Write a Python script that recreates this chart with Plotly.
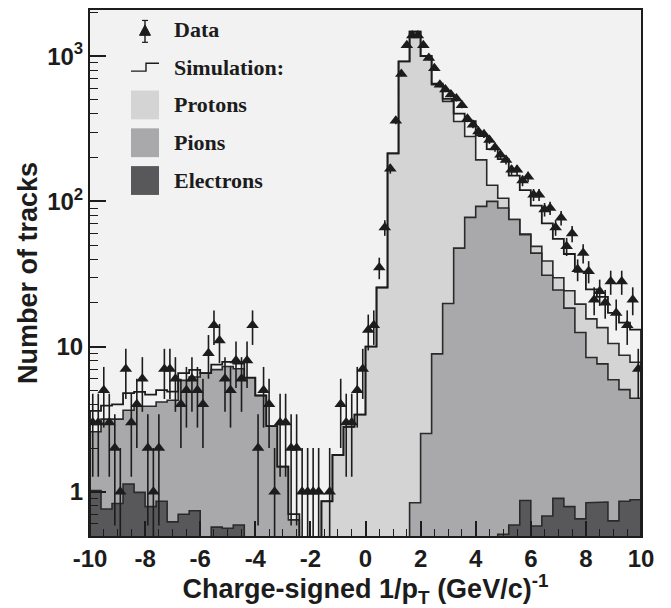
import numpy as np
import plotly.graph_objects as go

# ---- simulation: 50 bins of width 0.4 over charge-signed 1/pT ----
sim_edges = np.linspace(-10, 10, 51)

electrons = [1.02, 0.76, 0.83, 1.13, 0.99, 0.79, 0.86, 0.62, 0.70, 0.74,
             0, 0.57, 0.56, 0.59, 0, 0, 0, 0, 0, 0,
             0, 0, 0, 0, 0, 0, 0, 0, 0, 0,
             0, 0, 0, 0, 0, 0, 0, 0.51, 0.59, 0.87,
             0.58, 0.68, 0.90, 0.79, 0.65, 0.84, 0.85, 0.63, 0.86, 0.88]

pions = [2.59, 3.16, 3.16, 3.64, 3.88, 3.88, 4.15, 4.27, 5.85, 6.17,
         6.56, 6.93, 7.29, 7.03, 6.10, 4.60, 2.83, 1.49, 0.64, 0,
         0, 0, 0, 0, 0, 0, 0, 0, 0, 0.84,
         2.52, 8.9, 19.8, 47.6, 77.5, 92.4, 100, 90, 75, 59,
         44, 31, 24.5, 18.4, 12.5, 8.4, 7.6, 5.9, 5.05, 4.4]

protons = [0, 0, 0, 0, 0, 0, 0, 0, 0, 0,
           0, 0, 0, 0, 0, 0, 0, 0, 0.06, 0,
           0, 0.86, 1.79, 2.8, 3.4, 10, 25.5, 214, 920, 1475,
           1000, 637, 488, 355, 280, 193, 129, 105, 75, 59.5,
           49, 38.8, 29.8, 24.2, 19.6, 15.5, 13.5, 10.5, 8.7, 7.8]

# ---- data: 100 bins of width 0.2 ----
data_centers = np.linspace(-9.9, 9.9, 100)
data_counts = [3, 3, 5, 3, 2, 1, 7, 3, 4, 6,
               2, 1, 2, 7, 7, 6, 4, 5, 6, 5,
               4, 9, 14, 11, 6, 5, 8, 6, 8, 14,
               2, 5, 4, 1, 3, 3, 2, 2, 1, 1,
               1, 1, 0, 1, 0, 4, 3, 3, 5, 7,
               13, 14, 35, 66, 168, 359, 755, 1190, 1390, 1390,
               1190, 970, 826, 635, 590, 545, 510, 460, 370, 337,
               303, 290, 265, 235, 209, 193, 165, 165, 139, 148,
               111, 111, 88, 90, 66, 77, 49, 60, 34, 44,
               33, 21, 24, 20, 28, 17, 28, 14, 21, 7]

x_ticks = list(range(-10, 11, 2))
x_ticktext = [str(v) for v in x_ticks]
y_ticks = [1, 10, 100, 1000]
y_ticktext = ["1", "10", "10<sup>2</sup>", "10<sup>3</sup>"]

legend_entries = ["Data", "Simulation:", "Protons", "Pions", "Electrons"]

FLOOR = 1e-3
INK = "#1c1c1c"
C_BG = "#f2f2f2"
C_PROTON = "#d4d4d4"
C_PION = "#a9a9ab"
C_ELECTRON = "#58585a"


def step_path(values, edges, floor=FLOOR):
    xs, ys = [edges[0]], [floor]
    for i, v in enumerate(values):
        v = max(v, floor)
        xs += [edges[i], edges[i + 1]]
        ys += [v, v]
    xs.append(edges[-1])
    ys.append(floor)
    return xs, ys


fig = go.Figure()

# filled components, each drawn from the bottom, back to front
for vals, color in [(protons, C_PROTON), (pions, C_PION), (electrons, C_ELECTRON)]:
    xs, ys = step_path(vals, sim_edges)
    fig.add_trace(go.Scatter(x=xs, y=ys, mode="lines", fill="toself",
                             fillcolor=color, line=dict(color="#2a2a2a", width=1.6),
                             hoverinfo="skip"))

# total simulation
total = np.array(protons) + np.array(pions) + np.array(electrons)
xs, ys = step_path(total, sim_edges)
fig.add_trace(go.Scatter(x=xs, y=ys, mode="lines",
                         line=dict(color=INK, width=1.8), hoverinfo="skip"))

# data with Poisson errors
counts = np.array(data_counts, dtype=float)
mask = counts > 0
n = counts[mask]
err = np.sqrt(n)
err_minus = np.minimum(err, n - FLOOR)
fig.add_trace(go.Scatter(
    x=data_centers[mask], y=n, mode="markers",
    marker=dict(symbol="triangle-up", size=11, color=INK),
    error_y=dict(type="data", array=err, arrayminus=err_minus,
                 color=INK, thickness=1.6, width=0),
    hoverinfo="skip"))

# ---- legend (drawn in paper coordinates) ----
L, R, T, B = 90, 641, 7.5, 536.5


def px(x):
    return (x - L) / (R - L)


def py(y):
    return (B - y) / (B - T)


shapes = []
annotations = []
row_y = [27, 65, 103, 141, 179]
text_x = 172
for label, yy in zip(legend_entries, row_y):
    annotations.append(dict(x=px(text_x), y=py(yy), xref="paper", yref="paper",
                            text=label, showarrow=False, xanchor="left", yanchor="middle",
                            font=dict(family="Liberation Serif", size=22, color=INK,
                                      weight="bold")))
# data symbol
shapes.append(dict(type="line", xref="paper", yref="paper",
                   x0=px(145), x1=px(145), y0=py(18), y1=py(40),
                   line=dict(color=INK, width=1.4)))
for yy in (18, 40):
    shapes.append(dict(type="line", xref="paper", yref="paper",
                       x0=px(142), x1=px(148), y0=py(yy), y1=py(yy),
                       line=dict(color=INK, width=1.2)))
shapes.append(dict(type="path", xref="paper", yref="paper",
                   path=f"M {px(139.5)} {py(33)} L {px(150.5)} {py(33)} L {px(145)} {py(22.5)} Z",
                   fillcolor=INK, line=dict(color=INK, width=1)))
# simulation symbol
shapes.append(dict(type="path", xref="paper", yref="paper",
                   path=f"M {px(131)} {py(69)} L {px(146)} {py(69)} L {px(146)} {py(61)} L {px(159)} {py(61)}",
                   line=dict(color=INK, width=1.4)))
# filled swatches
for yy, color in zip(row_y[2:], [C_PROTON, C_PION, C_ELECTRON]):
    shapes.append(dict(type="rect", xref="paper", yref="paper",
                       x0=px(131), x1=px(159), y0=py(yy - 14.5), y1=py(yy + 14.5),
                       fillcolor=color, line=dict(width=0)))

tick_font = dict(family="Liberation Sans", size=24, color=INK, weight="bold")
title_font_x = dict(family="Liberation Sans", size=27, color=INK, weight="bold")
title_font_y = dict(family="Liberation Sans", size=27, color=INK, weight="bold")

fig.update_layout(
    width=671, height=608,
    margin=dict(l=L, r=671 - R, t=T, b=608 - B),
    paper_bgcolor="white", plot_bgcolor=C_BG,
    showlegend=False,
    shapes=shapes, annotations=annotations,
    xaxis=dict(range=[-10, 10], tickvals=x_ticks, ticktext=x_ticktext,
               ticks="inside", ticklen=15,
               tickwidth=1.5, tickcolor=INK,
               minor=dict(dtick=0.5, tick0=0, ticks="inside", ticklen=7,
                          tickwidth=1.2, tickcolor=INK),
               showline=True, linecolor=INK, linewidth=2, mirror=True,
               showgrid=False, zeroline=False, tickfont=tick_font,
               title=dict(text="Charge-signed 1/p<sub>T</sub> (GeV/c)<sup>-1</sup>",
                          font=title_font_x, standoff=8)),
    yaxis=dict(type="log", range=[-0.305, 3.318], tickvals=y_ticks, ticktext=y_ticktext,
               ticks="inside", ticklen=16, tickwidth=1.5, tickcolor=INK,
               minor=dict(tickvals=[k * 10.0 ** d for d in range(-1, 4) for k in range(2, 10)],
                          ticks="inside", ticklen=8, tickwidth=1.2, tickcolor=INK),
               showline=True, linecolor=INK, linewidth=2, mirror=True,
               showgrid=False, zeroline=False, tickfont=tick_font,
               title=dict(text="Number of tracks", font=title_font_y, standoff=2)),
)

fig.write_html("out.html")
